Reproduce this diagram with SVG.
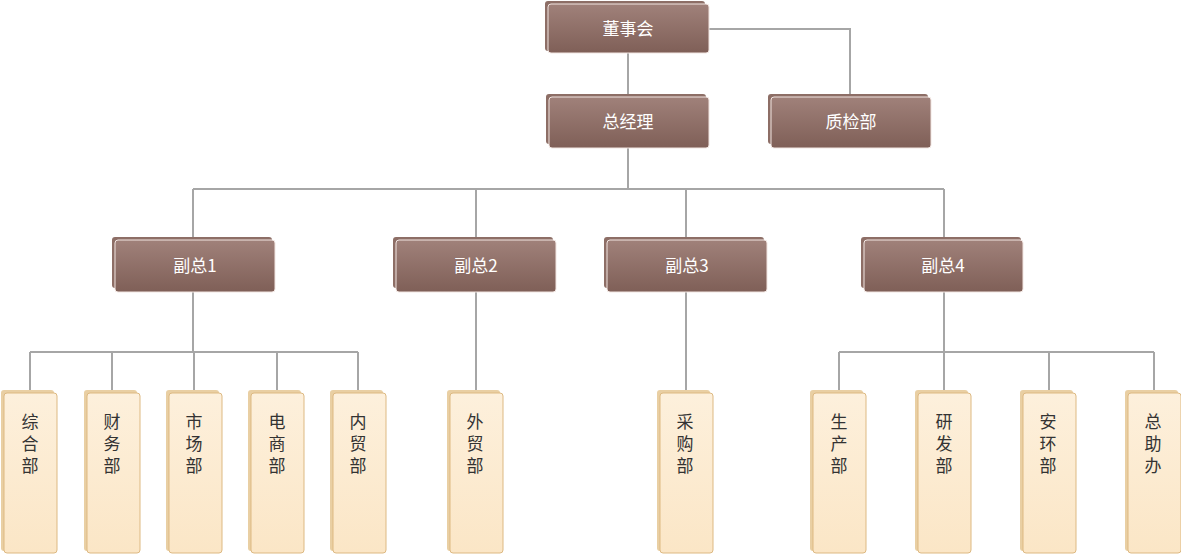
<svg xmlns="http://www.w3.org/2000/svg" width="1181" height="554" viewBox="0 0 1181 554">
<defs>
<linearGradient id="gb" x1="0" y1="0" x2="0" y2="1"><stop offset="0" stop-color="#a0817a"/><stop offset="1" stop-color="#7f5f57"/></linearGradient>
<linearGradient id="gl" x1="0" y1="0" x2="0" y2="1"><stop offset="0" stop-color="#fdf0dc"/><stop offset="1" stop-color="#fbe6c6"/></linearGradient>
</defs>
<style>
.bk{fill:#8d6e66}
.bf{fill:url(#gb);stroke:#f2e6e2;stroke-width:1}
.lk{fill:#e9cfa3}
.lf{fill:url(#gl);stroke:#ddb982;stroke-width:1}
.t{font-family:"Noto Sans CJK SC","Noto Sans",sans-serif;font-size:17px;fill:#fff;text-anchor:middle}
.v{font-family:"Noto Sans CJK SC","Noto Sans",sans-serif;font-size:17px;fill:#333;text-anchor:middle}
.c{fill:none;stroke:#a6a6a6;stroke-width:2}
</style>
<g id="connectors">
<path class="c" d="M628 53V96M709 29H850V96M628 148V189M193 189H944M193 189V240M476 189V240M686 189V240M944 189V240M193 292V352M30 352H358M30 352V392M112 352V392M194 352V392M277 352V392M358 352V392M476 292V392M686 292V392M944 292V352M839 352H1154M839 352V392M944 352V392M1049 352V392M1154 352V392"/>
</g>
<g id="n1"><rect class="bk" x="545" y="1" width="160" height="50" rx="3"/><rect class="bf" x="548" y="4" width="161" height="49" rx="3"/><text class="t" x="628" y="35">董事会</text></g>
<g id="n2"><rect class="bk" x="546" y="94" width="160" height="50" rx="3"/><rect class="bf" x="549" y="97" width="160" height="51" rx="3"/><text class="t" x="628" y="128">总经理</text></g>
<g id="n3"><rect class="bk" x="768" y="94" width="160" height="50" rx="3"/><rect class="bf" x="771" y="97" width="160" height="51" rx="3"/><text class="t" x="851" y="128">质检部</text></g>
<g id="n4"><rect class="bk" x="112" y="237" width="160" height="51" rx="3"/><rect class="bf" x="115" y="240" width="160" height="52" rx="3"/><text class="t" x="195" y="272">副总1</text></g>
<g id="n5"><rect class="bk" x="393" y="237" width="160" height="51" rx="3"/><rect class="bf" x="396" y="240" width="160" height="52" rx="3"/><text class="t" x="476" y="272">副总2</text></g>
<g id="n6"><rect class="bk" x="604" y="237" width="160" height="51" rx="3"/><rect class="bf" x="607" y="240" width="160" height="52" rx="3"/><text class="t" x="687" y="272">副总3</text></g>
<g id="n7"><rect class="bk" x="861" y="237" width="160" height="51" rx="3"/><rect class="bf" x="864" y="240" width="159" height="52" rx="3"/><text class="t" x="943" y="272">副总4</text></g>
<g id="l1"><rect class="lk" x="1" y="390" width="53" height="161" rx="3"/><rect class="lf" x="4" y="393" width="53" height="160" rx="3"/><text class="v"><tspan x="30" y="428">综</tspan><tspan x="30" y="450">合</tspan><tspan x="30" y="472">部</tspan></text></g>
<g id="l2"><rect class="lk" x="84" y="390" width="53" height="161" rx="3"/><rect class="lf" x="87" y="393" width="53" height="160" rx="3"/><text class="v"><tspan x="112" y="428">财</tspan><tspan x="112" y="450">务</tspan><tspan x="112" y="472">部</tspan></text></g>
<g id="l3"><rect class="lk" x="166" y="390" width="53" height="161" rx="3"/><rect class="lf" x="169" y="393" width="53" height="160" rx="3"/><text class="v"><tspan x="194" y="428">市</tspan><tspan x="194" y="450">场</tspan><tspan x="194" y="472">部</tspan></text></g>
<g id="l4"><rect class="lk" x="248" y="390" width="53" height="161" rx="3"/><rect class="lf" x="251" y="393" width="53" height="160" rx="3"/><text class="v"><tspan x="277" y="428">电</tspan><tspan x="277" y="450">商</tspan><tspan x="277" y="472">部</tspan></text></g>
<g id="l5"><rect class="lk" x="330" y="390" width="53" height="161" rx="3"/><rect class="lf" x="333" y="393" width="53" height="160" rx="3"/><text class="v"><tspan x="358" y="428">内</tspan><tspan x="358" y="450">贸</tspan><tspan x="358" y="472">部</tspan></text></g>
<g id="l6"><rect class="lk" x="447" y="390" width="53" height="161" rx="3"/><rect class="lf" x="450" y="393" width="53" height="160" rx="3"/><text class="v"><tspan x="475" y="428">外</tspan><tspan x="475" y="450">贸</tspan><tspan x="475" y="472">部</tspan></text></g>
<g id="l7"><rect class="lk" x="657" y="390" width="53" height="161" rx="3"/><rect class="lf" x="660" y="393" width="53" height="160" rx="3"/><text class="v"><tspan x="685" y="428">采</tspan><tspan x="685" y="450">购</tspan><tspan x="685" y="472">部</tspan></text></g>
<g id="l8"><rect class="lk" x="810" y="390" width="53" height="161" rx="3"/><rect class="lf" x="813" y="393" width="53" height="160" rx="3"/><text class="v"><tspan x="839" y="428">生</tspan><tspan x="839" y="450">产</tspan><tspan x="839" y="472">部</tspan></text></g>
<g id="l9"><rect class="lk" x="915" y="390" width="53" height="161" rx="3"/><rect class="lf" x="918" y="393" width="53" height="160" rx="3"/><text class="v"><tspan x="944" y="428">研</tspan><tspan x="944" y="450">发</tspan><tspan x="944" y="472">部</tspan></text></g>
<g id="l10"><rect class="lk" x="1020" y="390" width="53" height="161" rx="3"/><rect class="lf" x="1023" y="393" width="53" height="160" rx="3"/><text class="v"><tspan x="1048" y="428">安</tspan><tspan x="1048" y="450">环</tspan><tspan x="1048" y="472">部</tspan></text></g>
<g id="l11"><rect class="lk" x="1125" y="390" width="53" height="161" rx="3"/><rect class="lf" x="1128" y="393" width="53" height="160" rx="3"/><text class="v"><tspan x="1153" y="428">总</tspan><tspan x="1153" y="450">助</tspan><tspan x="1153" y="472">办</tspan></text></g>
</svg>
